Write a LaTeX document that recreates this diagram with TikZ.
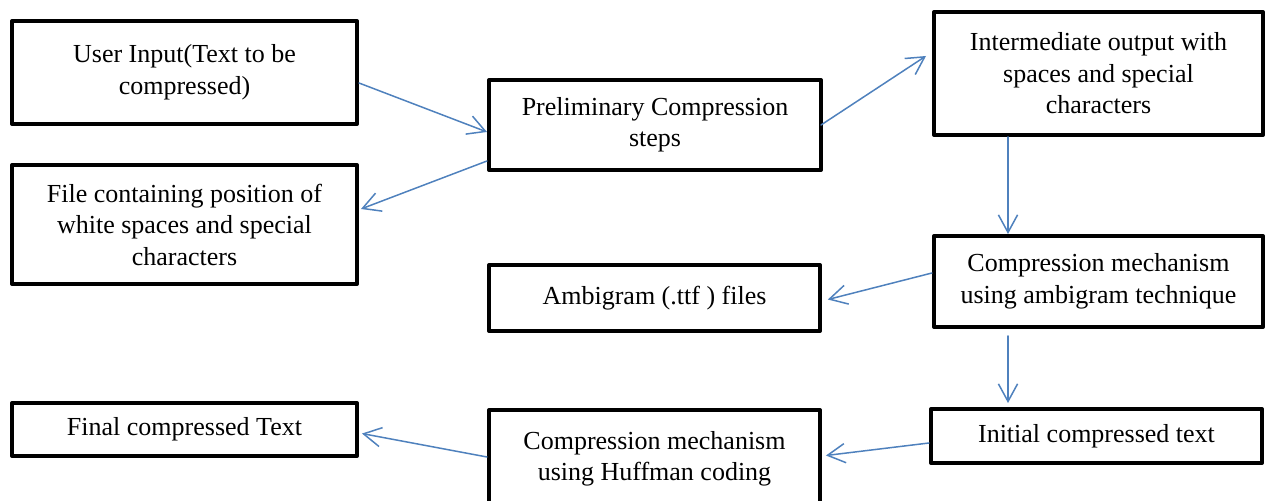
\documentclass[tikz,border=0pt]{standalone}
\usepackage{fontspec}
\setmainfont{Liberation Serif}
\usetikzlibrary{arrows.meta}

\definecolor{flowblue}{RGB}{79,129,189}

\begin{document}
\begin{tikzpicture}[x=0.5pt, y=-0.5pt, line cap=round, line join=round,
    font=\fontsize{13}{15.75}\selectfont,
    box/.style={draw=black, line width=2pt, rectangle, align=center, inner sep=0pt},
    flow/.style={draw=flowblue, line width=0.75pt,
                 -{Straight Barb[length=8.8pt, width=9.6pt, line width=0.75pt]}}]

  \useasboundingbox (0,0) rectangle (1271,501);

  % ── Left column ──────────────────────────────────────────────────────────────
  \node[box, minimum width=172.5pt, minimum height=51.5pt] (input) at (184.5, 72.5)
    {User Input(Text to be\\compressed)};
  \node[box, minimum width=172.5pt, minimum height=59.5pt] (spacefile) at (184.5, 224.5)
    {File containing position of\\white spaces and special\\characters};
  \node[box, minimum width=172.5pt, minimum height=26.5pt] (final) at (184.5, 429.5)
    {Final compressed Text};

  % ── Middle column ────────────────────────────────────────────────────────────
  \node[box, minimum width=166pt, minimum height=45pt] (prelim) at (655, 125)
    {Preliminary Compression\\steps};
  \node[box, minimum width=165.5pt, minimum height=33pt] (ttffiles) at (654.5, 298)
    {Ambigram (.ttf ) files};
  \node[box, minimum width=165.5pt, minimum height=49pt] (huffman) at (654.5, 459)
    {Compression mechanism\\using Huffman coding};

  % ── Right column ─────────────────────────────────────────────────────────────
  \node[box, minimum width=164.5pt, minimum height=61.5pt] (interm) at (1098.5, 73.5)
    {Intermediate output with\\spaces and special\\characters};
  \node[box, minimum width=164.5pt, minimum height=45.5pt] (ambigram) at (1098.5, 281.5)
    {Compression mechanism\\using ambigram technique};
  \node[box, minimum width=165.5pt, minimum height=27pt] (initial) at (1096.5, 436)
    {Initial compressed text};

  % ── Connectors ───────────────────────────────────────────────────────────────
  \draw[flow] ([yshift=-5.25pt]input.east) -- ([yshift=-3.5pt]prelim.west);
  \draw[flow] ([yshift=-18pt]prelim.west) -- ([yshift=7.75pt, xshift=1pt]spacefile.east);
  \draw[flow] ([xshift=-1pt]prelim.east) -- ([yshift=8.75pt, xshift=-3pt]interm.west);
  \draw[flow] ([xshift=-45.25pt]interm.south) -- ([xshift=-45.25pt]ambigram.north);
  \draw[flow, shorten >=3pt] ([yshift=4.25pt]ambigram.west) -- ([yshift=-1.5pt]ttffiles.east);
  \draw[flow, shorten <=3.5pt, shorten >=2pt] ([xshift=-45.25pt]ambigram.south)
    -- ([xshift=-44.25pt]initial.north);
  \draw[flow, shorten >=2pt] ([yshift=-3.5pt]initial.west) -- ([yshift=1.5pt]huffman.east);
  \draw[flow, shorten >=1.5pt] ([yshift=1pt]huffman.west) -- ([yshift=-1.75pt]final.east);

\end{tikzpicture}
\end{document}
